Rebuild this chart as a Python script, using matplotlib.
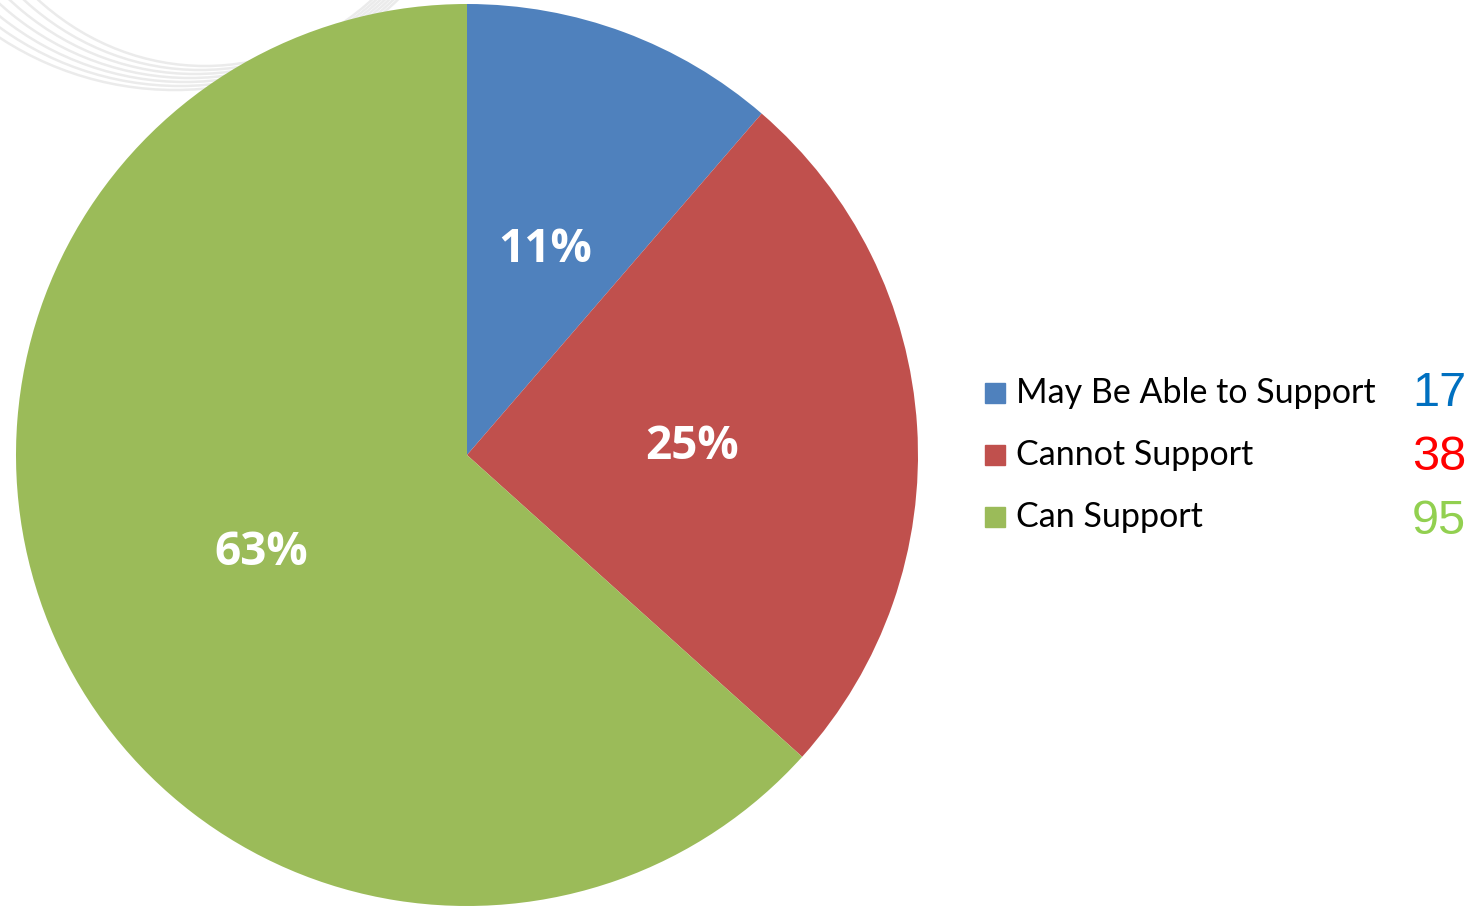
import matplotlib.pyplot as plt
from matplotlib.patches import Rectangle, Arc

# Support survey responses
categories = ['May Be Able to Support', 'Cannot Support', 'Can Support']
counts = [17, 38, 95]
colors = ['#4F81BD', '#C0504D', '#9BBB59']
count_colors = ['#0070C0', '#FF0000', '#92D050']

W, H = 1476, 908
fig = plt.figure(figsize=(W / 100, H / 100), dpi=100)
ax = fig.add_axes([0, 0, 1, 1])

# faint background swooshes in the top-left corner
for i in range(7):
    arc = Arc((175 + i * 5, H + 230 - i * 2), 640 - i * 20, 640 - i * 12,
              theta1=195, theta2=345, color='#ebebeb', lw=1.8, zorder=0)
    ax.add_patch(arc)

wedges, texts, autotexts = ax.pie(
    counts, colors=colors, startangle=90, counterclock=False,
    center=(467, H - 455), radius=451, autopct='%1.0f%%', pctdistance=0.5,
    wedgeprops=dict(linewidth=0), frame=True,
    textprops=dict(color='white', fontsize=33, fontweight='bold', family='Open Sans'))
for w in wedges:
    w.set_zorder(2)
for t in autotexts:
    t.set_zorder(3)
    x, y = t.get_position()
    t.set_position((x, y - 6))

ax.set_xlim(0, W)
ax.set_ylim(0, H)
ax.set_aspect('equal')
ax.axis('off')

# legend with counts
for i, (name, n) in enumerate(zip(categories, counts)):
    y = H - (393 + i * 62)
    ax.add_patch(Rectangle((985, y - 10), 20, 20, color=colors[i]))
    ax.text(1016, y, name, fontsize=24.5, family='Lato', va='center', ha='left')
    ax.text(1466, H - (394 + i * 64), str(n), fontsize=35, family='Liberation Sans',
            color=count_colors[i], va='center', ha='right')

fig.savefig('out.png', dpi=100)
